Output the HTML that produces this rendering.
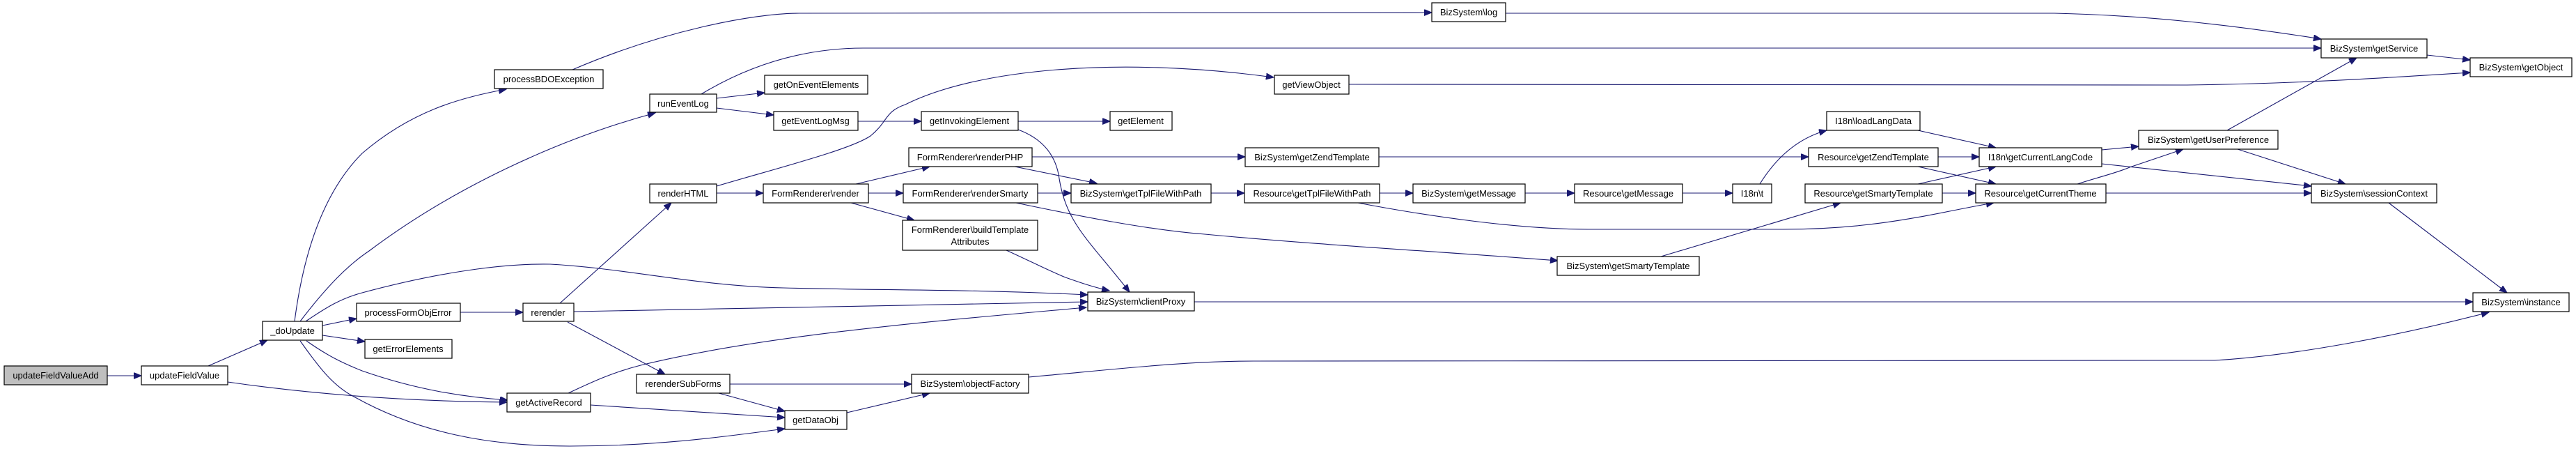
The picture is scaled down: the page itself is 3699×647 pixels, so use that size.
<!DOCTYPE html>
<html><head><meta charset="utf-8"><style>
html,body{margin:0;padding:0;background:#fff}
svg{display:block}
text{font-family:"Liberation Sans",Arial,sans-serif;font-size:13px;fill:#000}
.n{fill:#fff;stroke:#000;stroke-width:1.2}
.e{fill:none;stroke:#191970;stroke-width:1.1}
</style></head><body>
<svg width="3699" height="647" viewBox="0 0 3699 647" xmlns="http://www.w3.org/2000/svg">
<defs><marker id="a" markerUnits="userSpaceOnUse" markerWidth="12" markerHeight="10" refX="11" refY="4.5" orient="auto"><path d="M0,0 L11,4.5 L0,9 z" fill="#191970" stroke="#191970"/></marker></defs>
<g marker-end="url(#a)">
<path class="e" d="M154,539 L203,539"/>
<path class="e" d="M299,525 L384,488"/>
<path class="e" d="M327,548 Q514,575 728,577"/>
<path class="e" d="M423,461 C440,330 480,260 520,220 C590,160 660,140 727,128"/>
<path class="e" d="M431,461 C470,410 500,380 530,360 C650,270 800,200 941,162"/>
<path class="e" d="M439,461 C470,440 490,428 520,420 C650,385 740,378 790,379 C900,385 1000,410 1125,413 C1300,417 1400,415 1562,423"/>
<path class="e" d="M463,467 L512,457"/>
<path class="e" d="M463,481 L524,490"/>
<path class="e" d="M440,489 C470,510 490,520 520,532 C600,560 670,570 729,574"/>
<path class="e" d="M431,489 C460,530 480,555 510,570 C600,620 700,640 818,640 C950,640 1050,625 1127,615"/>
<path class="e" d="M661,448 L751,448"/>
<path class="e" d="M822,100 C950,45 1080,19 1148,19 L2056,18"/>
<path class="e" d="M1007,135 C1090,85 1170,69 1240,69 L3333,69"/>
<path class="e" d="M1029,141 L1098,133"/>
<path class="e" d="M1029,155 L1111,165"/>
<path class="e" d="M1232,174 L1323,174"/>
<path class="e" d="M1462,174 L1594,174"/>
<path class="e" d="M1462,186 C1500,200 1515,225 1520,250 C1530,320 1560,340 1622,419"/>
<path class="e" d="M1029,267 C1120,240 1220,215 1250,195 C1275,175 1270,160 1300,150 C1400,100 1600,80 1829,111"/>
<path class="e" d="M1937,121 L3140,122 C3300,120 3420,112 3547,104"/>
<path class="e" d="M1029,277 L1096,277"/>
<path class="e" d="M804,435 L964,291"/>
<path class="e" d="M824,447 L1562,433"/>
<path class="e" d="M815,462 L955,537"/>
<path class="e" d="M816,564 C850,548 880,534 920,524 C1100,480 1350,460 1560,441"/>
<path class="e" d="M848,581 L1127,599"/>
<path class="e" d="M1048,551 L1309,551"/>
<path class="e" d="M1032,564 L1127,590"/>
<path class="e" d="M1216,592 L1335,564"/>
<path class="e" d="M1477,541 C1600,530 1700,518 1800,518 L3180,517 C3300,510 3450,480 3574,448"/>
<path class="e" d="M1229,264 L1335,239"/>
<path class="e" d="M1247,277 L1297,277"/>
<path class="e" d="M1222,291 L1313,316"/>
<path class="e" d="M1482,225 L1788,225"/>
<path class="e" d="M1457,239 L1575,263"/>
<path class="e" d="M1490,277 L1538,277"/>
<path class="e" d="M1459,291 C1550,310 1650,330 1730,336 C1900,352 2100,363 2237,374"/>
<path class="e" d="M1445,359 C1480,375 1510,390 1530,398 C1550,405 1570,412 1593,417"/>
<path class="e" d="M1715,433 L3551,433"/>
<path class="e" d="M1980,225 L2597,225"/>
<path class="e" d="M1739,277 L1787,277"/>
<path class="e" d="M1981,277 L2029,277"/>
<path class="e" d="M1950,291 C2050,310 2180,329 2280,329 L2560,329 C2700,329 2780,305 2863,291"/>
<path class="e" d="M2190,277 L2261,277"/>
<path class="e" d="M2416,277 L2488,277"/>
<path class="e" d="M2527,264 C2545,235 2575,200 2623,187"/>
<path class="e" d="M2385,368 L2643,291"/>
<path class="e" d="M2754,187 L2866,212"/>
<path class="e" d="M2783,225 L2842,225"/>
<path class="e" d="M2754,239 L2866,264"/>
<path class="e" d="M2754,264 L2866,239"/>
<path class="e" d="M2789,277 L2837,277"/>
<path class="e" d="M3018,215 L3071,210"/>
<path class="e" d="M3018,235 L3319,267"/>
<path class="e" d="M2983,264 C3010,255 3040,248 3058,240 L3135,214"/>
<path class="e" d="M3024,277 L3319,277"/>
<path class="e" d="M3198,187 L3384,83"/>
<path class="e" d="M3213,214 L3368,264"/>
<path class="e" d="M2162,19 L2950,19 C3080,22 3200,35 3333,56"/>
<path class="e" d="M3485,79 L3547,86"/>
<path class="e" d="M3430,291 L3600,420"/>
</g>
<g>
<rect x="6" y="525" width="148" height="27" fill="#bfbfbf" stroke="#000" stroke-width="1.2"/><text x="80" y="543" text-anchor="middle">updateFieldValueAdd</text>
<rect class="n" x="203" y="525" width="124" height="27"/><text x="265" y="543" text-anchor="middle">updateFieldValue</text>
<rect class="n" x="377" y="461" width="86" height="27"/><text x="420" y="479" text-anchor="middle">_doUpdate</text>
<rect class="n" x="512" y="435" width="149" height="26"/><text x="586" y="453" text-anchor="middle">processFormObjError</text>
<rect class="n" x="524" y="487" width="125" height="27"/><text x="586" y="505" text-anchor="middle">getErrorElements</text>
<rect class="n" x="710" y="100" width="156" height="27"/><text x="788" y="118" text-anchor="middle">processBDOException</text>
<rect class="n" x="933" y="135" width="96" height="26"/><text x="981" y="153" text-anchor="middle">runEventLog</text>
<rect class="n" x="1098" y="108" width="148" height="27"/><text x="1172" y="126" text-anchor="middle">getOnEventElements</text>
<rect class="n" x="1111" y="160" width="121" height="27"/><text x="1171" y="178" text-anchor="middle">getEventLogMsg</text>
<rect class="n" x="1323" y="160" width="139" height="27"/><text x="1392" y="178" text-anchor="middle">getInvokingElement</text>
<rect class="n" x="1305" y="212" width="177" height="27"/><text x="1393" y="230" text-anchor="middle">FormRenderer\renderPHP</text>
<rect class="n" x="933" y="264" width="96" height="27"/><text x="981" y="282" text-anchor="middle">renderHTML</text>
<rect class="n" x="1096" y="264" width="151" height="27"/><text x="1171" y="282" text-anchor="middle">FormRenderer\render</text>
<rect class="n" x="1297" y="264" width="193" height="27"/><text x="1393" y="282" text-anchor="middle">FormRenderer\renderSmarty</text>
<rect class="n" x="1296" y="316" width="194" height="43"/><text x="1393" y="334" text-anchor="middle">FormRenderer\buildTemplate</text><text x="1393" y="351" text-anchor="middle">Attributes</text>
<rect class="n" x="751" y="435" width="73" height="26"/><text x="787" y="453" text-anchor="middle">rerender</text>
<rect class="n" x="914" y="537" width="134" height="27"/><text x="981" y="555" text-anchor="middle">rerenderSubForms</text>
<rect class="n" x="728" y="564" width="120" height="27"/><text x="788" y="582" text-anchor="middle">getActiveRecord</text>
<rect class="n" x="1127" y="589" width="89" height="27"/><text x="1171" y="607" text-anchor="middle">getDataObj</text>
<rect class="n" x="1309" y="537" width="168" height="27"/><text x="1393" y="555" text-anchor="middle">BizSystem\objectFactory</text>
<rect class="n" x="2056" y="4" width="106" height="27"/><text x="2109" y="22" text-anchor="middle">BizSystem\log</text>
<rect class="n" x="1830" y="108" width="107" height="27"/><text x="1883" y="126" text-anchor="middle">getViewObject</text>
<rect class="n" x="1594" y="160" width="89" height="27"/><text x="1638" y="178" text-anchor="middle">getElement</text>
<rect class="n" x="1788" y="212" width="192" height="27"/><text x="1884" y="230" text-anchor="middle">BizSystem\getZendTemplate</text>
<rect class="n" x="1538" y="264" width="201" height="27"/><text x="1638" y="282" text-anchor="middle">BizSystem\getTplFileWithPath</text>
<rect class="n" x="1787" y="264" width="194" height="27"/><text x="1884" y="282" text-anchor="middle">Resource\getTplFileWithPath</text>
<rect class="n" x="2029" y="264" width="161" height="27"/><text x="2109" y="282" text-anchor="middle">BizSystem\getMessage</text>
<rect class="n" x="1562" y="419" width="153" height="27"/><text x="1638" y="437" text-anchor="middle">BizSystem\clientProxy</text>
<rect class="n" x="2261" y="264" width="155" height="27"/><text x="2338" y="282" text-anchor="middle">Resource\getMessage</text>
<rect class="n" x="2488" y="264" width="56" height="27"/><text x="2516" y="282" text-anchor="middle">I18n\t</text>
<rect class="n" x="2623" y="160" width="134" height="27"/><text x="2690" y="178" text-anchor="middle">I18n\loadLangData</text>
<rect class="n" x="2597" y="212" width="186" height="27"/><text x="2690" y="230" text-anchor="middle">Resource\getZendTemplate</text>
<rect class="n" x="2592" y="264" width="197" height="27"/><text x="2690" y="282" text-anchor="middle">Resource\getSmartyTemplate</text>
<rect class="n" x="2236" y="368" width="204" height="27"/><text x="2338" y="386" text-anchor="middle">BizSystem\getSmartyTemplate</text>
<rect class="n" x="3333" y="56" width="152" height="27"/><text x="3409" y="74" text-anchor="middle">BizSystem\getService</text>
<rect class="n" x="3547" y="83" width="146" height="27"/><text x="3620" y="101" text-anchor="middle">BizSystem\getObject</text>
<rect class="n" x="3071" y="187" width="200" height="27"/><text x="3171" y="205" text-anchor="middle">BizSystem\getUserPreference</text>
<rect class="n" x="2842" y="212" width="176" height="27"/><text x="2930" y="230" text-anchor="middle">I18n\getCurrentLangCode</text>
<rect class="n" x="2837" y="264" width="187" height="27"/><text x="2930" y="282" text-anchor="middle">Resource\getCurrentTheme</text>
<rect class="n" x="3319" y="264" width="180" height="27"/><text x="3409" y="282" text-anchor="middle">BizSystem\sessionContext</text>
<rect class="n" x="3551" y="420" width="138" height="27"/><text x="3620" y="438" text-anchor="middle">BizSystem\instance</text>
</g>
</svg>
</body></html>
